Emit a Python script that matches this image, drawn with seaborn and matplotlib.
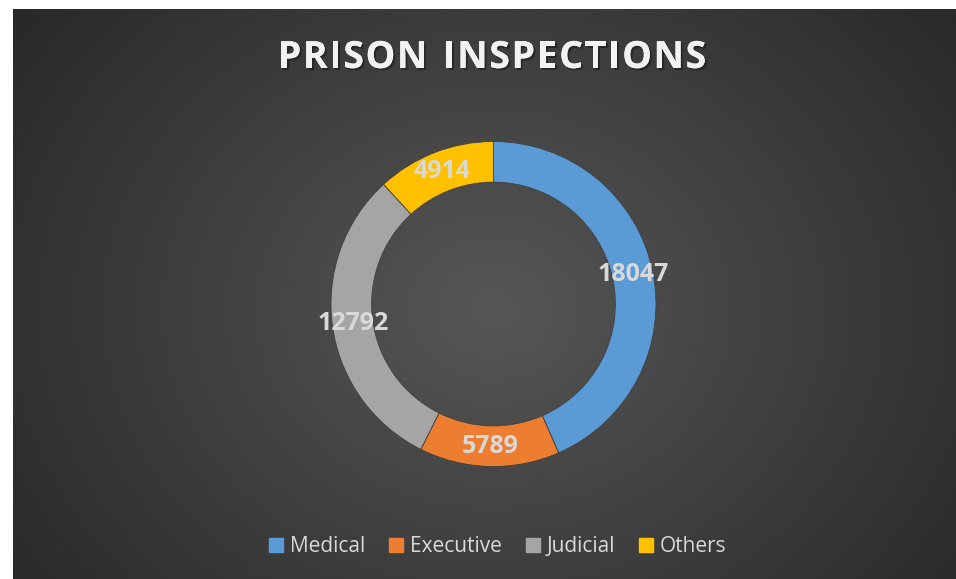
import numpy as np
import matplotlib.pyplot as plt
import matplotlib.patheffects as pe
import seaborn as sns

categories = ["Medical", "Executive", "Judicial", "Others"]
inspections = [18047, 5789, 12792, 4914]
slice_colors = ["#5b9bd5", "#ed7d31", "#a5a5a5", "#ffc000"]
title = "PRISON INSPECTIONS"

sns.set_theme(style="white")
plt.rcParams['font.family'] = ['Open Sans', 'DejaVu Sans']

W, H = 956, 579
fig = plt.figure(figsize=(W / 100, H / 100), dpi=100, facecolor="white")

# dark radial-gradient panel (leaves a thin white strip on the left/top)
bg = fig.add_axes([13 / W, 0, (W - 13) / W, (H - 9) / H])
bg.set_axis_off()
yy, xx = np.mgrid[0:570, 0:943]
cx, cy = 480, 300
d = np.sqrt(((xx - cx) / 620) ** 2 + ((yy - cy) / 520) ** 2)
shade = np.clip(0.34 - 0.19 * d, 0.16, 0.34)
bg.imshow(np.dstack([shade] * 3), aspect="auto", interpolation="bilinear")

# donut
r_px = 162.5
cxp, cyp = 493.5, 304
ax = fig.add_axes([(cxp - r_px) / W, (H - cyp - r_px) / H, 2 * r_px / W, 2 * r_px / H])
ax.set_axis_off()
wedges, _ = ax.pie(inspections, colors=slice_colors, startangle=90, counterclock=False,
                   radius=1.0, wedgeprops=dict(width=0.25, edgecolor="#404040", linewidth=0.6))
ax.set_xlim(-1, 1)
ax.set_ylim(-1, 1)

total = sum(inspections)
start = 0.0
for v in inspections:
    mid = (start + v / 2) / total * 2 * np.pi
    ax.text(0.875 * np.sin(mid), 0.875 * np.cos(mid), str(v), ha="center", va="center",
            fontsize=18, fontweight="bold", color="#d9d9d9")
    start += v

# title with letter spacing: lay out one character at a time
renderer = fig.canvas.get_renderer()
shadow = [pe.withSimplePatchShadow(offset=(1.5, -1.5), shadow_rgbFace="black", alpha=0.35), pe.Normal()]
tkw = dict(fontsize=27, fontweight="bold", color="#f2f2f2", va="center", ha="left")
spacing = 1.6
widths = []
for ch in title:
    t = fig.text(0, 0, "I" if ch == " " else ch, **tkw)
    widths.append(t.get_window_extent(renderer).width)
    t.remove()
total_w = sum(widths) + spacing * (len(title) - 1)
x = 492 - total_w / 2
for ch, w in zip(title, widths):
    if ch != " ":
        fig.text(x / W, 1 - 58 / H, ch, path_effects=shadow, **tkw)
    x += w + spacing

handles = [plt.Rectangle((0, 0), 1, 1, color=c) for c in slice_colors]
fig.legend(handles, categories, loc="center", bbox_to_anchor=(498 / W, 1 - 547 / H),
           ncol=4, frameon=False, fontsize=15, labelcolor="#d9d9d9",
           handlelength=0.65, handleheight=0.65, handletextpad=0.35, columnspacing=1.15)

fig.savefig("out.png", dpi=100, facecolor="white")
